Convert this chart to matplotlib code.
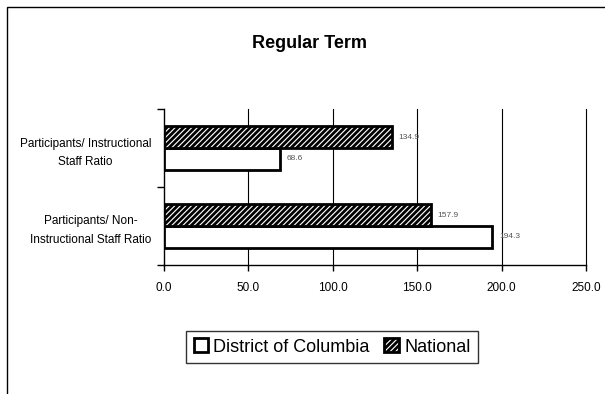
import matplotlib.pyplot as plt
from matplotlib.patches import Patch, Rectangle

# ----- Data -----
categories = ["Participants/ Non-\nInstructional Staff Ratio",
              "Participants/ Instructional\nStaff Ratio"]
dc_values = [194.3, 68.6]
national_values = [157.9, 134.9]
series_names = ["District of Columbia", "National"]
x_ticks = [0, 50, 100, 150, 200, 250]

plt.rcParams["font.family"] = ["Liberation Sans Narrow", "Liberation Sans", "DejaVu Sans"]
plt.rcParams["hatch.linewidth"] = 2.0

fig = plt.figure(figsize=(6.05, 3.94), dpi=100)
ax = fig.add_axes([164 / 605, 1 - 265 / 394, 422 / 605, 156 / 394])

# outer chart border (cut off at right and bottom)
fig.patches.append(Rectangle((7 / 605, -0.05), 1.1, 1 - 7 / 394 + 0.05,
                             transform=fig.transFigure, fill=False,
                             edgecolor="black", lw=1.0))

h = 0.28
ypos = list(range(len(categories)))
ax.barh([y - h / 2 for y in ypos], dc_values, height=h, color="white",
        edgecolor="black", lw=2, zorder=3)
ax.barh([y + h / 2 for y in ypos], national_values, height=h, color="white",
        edgecolor="black", hatch="//////", lw=2, zorder=3)

for y, v in zip(ypos, dc_values):
    ax.annotate(f"{v:.1f}", (v, y - h / 2), xytext=(5, 0), textcoords="offset points",
                va="center", ha="left", fontsize=6, color="#555555")
for y, v in zip(ypos, national_values):
    ax.annotate(f"{v:.1f}", (v, y + h / 2), xytext=(5, 0), textcoords="offset points",
                va="center", ha="left", fontsize=6, color="#555555")

ax.set_xlim(0, 250)
ax.set_ylim(-0.5, 1.5)
ax.set_xticks(x_ticks)
ax.set_xticklabels([f"{t:.1f}" for t in x_ticks], fontsize=8.5)
ax.set_yticks(ypos)
ax.set_yticklabels(categories, fontsize=8.5, ha="right", multialignment="center",
                   linespacing=1.75)
ax.tick_params(axis="y", length=0, pad=9)
ax.set_yticks([-0.5, 0.5, 1.5], minor=True)
ax.tick_params(axis="y", which="minor", length=5, width=1)
ax.tick_params(axis="x", length=4, width=1, pad=8)

for sp in ["top", "right"]:
    ax.spines[sp].set_visible(False)
for sp in ["left", "bottom"]:
    ax.spines[sp].set_linewidth(1)
for t in x_ticks[1:]:
    ax.axvline(t, color="black", lw=0.8, zorder=1, clip_on=False)

fig.text(310 / 605, 1 - 44 / 394, "Regular Term", ha="center", va="center",
         fontsize=13, fontweight="bold")

handles = [Patch(facecolor="white", edgecolor="black", lw=2),
           Patch(facecolor="white", edgecolor="black", lw=2, hatch="//////")]
leg = fig.legend(handles, series_names, loc="center", bbox_to_anchor=(332 / 605, 1 - 347 / 394),
                 ncol=2, fontsize=13, frameon=True, fancybox=False, handlelength=0.8,
                 handleheight=0.8, handletextpad=0.3, columnspacing=0.8, borderpad=0.4)
leg.get_frame().set_edgecolor("black")
leg.get_frame().set_linewidth(1)

fig.savefig("out.png", dpi=100)
